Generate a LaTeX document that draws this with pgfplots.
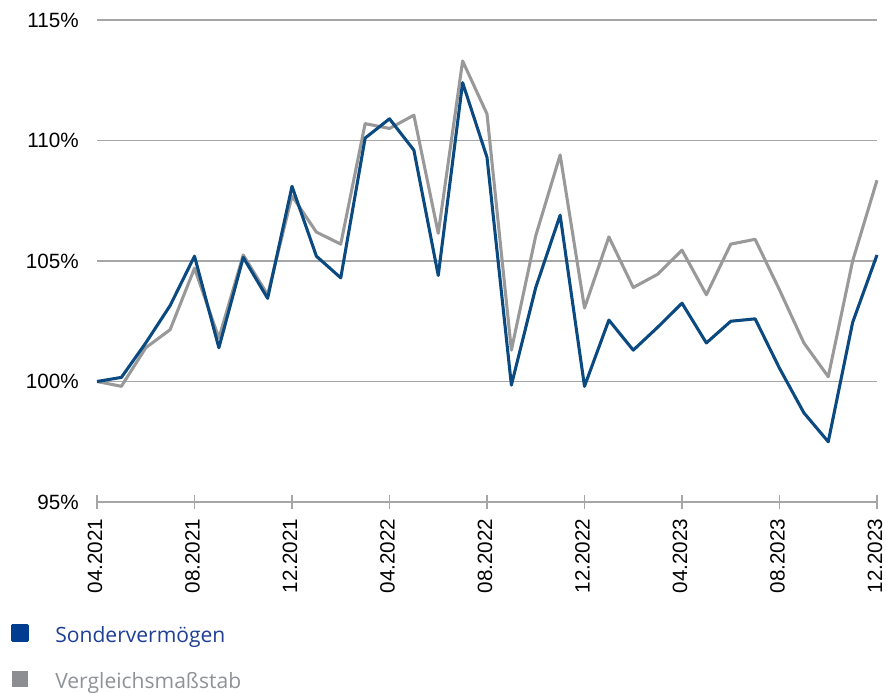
\documentclass[border=0pt]{standalone}
\usepackage{fontspec}
\setmainfont{Liberation Sans}
\newfontfamily\legfont{Open Sans}
\usepackage{pgfplots}
\pgfplotsset{compat=1.18}
\definecolor{fundblue}{HTML}{0B4A80}
\definecolor{benchgray}{HTML}{999999}
\definecolor{legblue}{HTML}{003C8F}
\definecolor{leggray}{HTML}{8C8E92}
\definecolor{legtextblue}{HTML}{1F3F94}
\definecolor{legtextgray}{HTML}{8F9296}
\definecolor{gridgray}{HTML}{A6A6A6}
\pgfplotstableread{
i fund bench
0 100 100
1 100.17 99.8
2 101.6 101.4
3 103.15 102.15
4 105.2 104.7
5 101.4 101.8
6 105.15 105.25
7 103.45 103.6
8 108.1 107.7
9 105.2 106.2
10 104.3 105.7
11 110.1 110.7
12 110.9 110.5
13 109.6 111.05
14 104.4 106.15
15 112.4 113.3
16 109.3 111.1
17 99.85 101.3
18 103.9 106.05
19 106.9 109.4
20 99.8 103.05
21 102.55 106.0
22 101.3 103.9
23 102.25 104.45
24 103.25 105.45
25 101.6 103.6
26 102.5 105.7
27 102.6 105.9
28 100.55 103.8
29 98.7 101.6
30 97.5 100.2
31 102.45 105.0
32 105.25 108.35
}\datatable
\begin{document}
\begin{tikzpicture}
\useasboundingbox (0pt,0pt) rectangle (664.5pt,519.75pt);
\begin{axis}[
  at={(72.75pt,143.25pt)}, anchor=south west,
  scale only axis, width=585pt, height=361.5pt,
  xmin=0, xmax=32, ymin=95, ymax=115,
  axis x line*=bottom, axis y line*=left,
  y axis line style={draw=none},
  x axis line style={draw=gridgray, line width=0.8pt, -},
  xtick={0,4,...,32},
  xticklabels={04.2021,08.2021,12.2021,04.2022,08.2022,12.2022,04.2023,08.2023,12.2023},
  xtick align=center, major tick length=10.5pt,
  xtick style={draw=gridgray, line width=0.8pt},
  ytick={95,100,105,110,115},
  ytick style={draw=none},
  yticklabel={\pgfmathprintnumber{\tick}\%},
  ymajorgrids, grid style={draw=gridgray, line width=0.8pt},
  /pgf/number format/assume math mode=true,
  tick label style={font=\fontsize{15.5}{18}\selectfont, text=black},
  xticklabel style={xshift=-1.5pt, rotate=90, anchor=east, inner sep=0pt},
  xticklabel shift=7pt,
  yticklabel style={anchor=east, inner sep=0pt, xshift=-13.5pt},
  legend style={at={(-0.1103,-0.253)}, anchor=north west, draw=none, fill=none,
    inner sep=0pt, row sep=20.2pt, font=\legfont\fontsize{15.8}{19}\selectfont,
    nodes={inner sep=0pt},
    /tikz/every odd column/.append style={column sep=19.5pt}},
  legend cell align=left,
  clip=false,
]
\addplot[benchgray, line width=2.3pt, line join=round, forget plot] table[x=i, y=bench] {\datatable};
\addplot[fundblue, line width=2.3pt, line join=round,
  legend image code/.code={\fill[legblue] (0pt,-4.125pt) rectangle (11.25pt,7.125pt);}]
  table[x=i, y=fund] {\datatable};
\addlegendentry{\textcolor{legtextblue}{Sondervermögen}}
\addlegendimage{legend image code/.code={\fill[leggray] (0pt,-4.125pt) rectangle (11.25pt,7.125pt);}}
\addlegendentry{\textcolor{legtextgray}{Vergleichsmaßstab}}
\end{axis}
\end{tikzpicture}
\end{document}
